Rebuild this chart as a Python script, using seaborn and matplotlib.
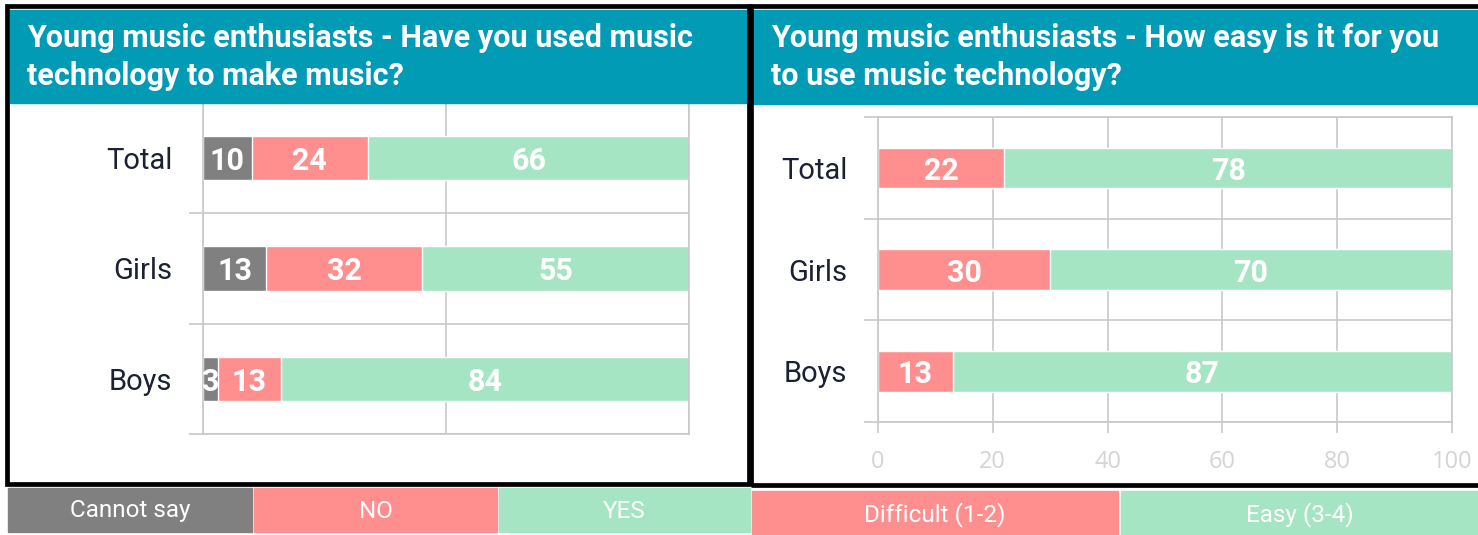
import matplotlib
matplotlib.use('Agg')
import matplotlib.pyplot as plt
from matplotlib.patches import Rectangle
import seaborn as sns
import pandas as pd
import numpy as np

# data
groups = ['Total', 'Girls', 'Boys']
used_labels = ['Cannot say', 'NO', 'YES']
used_cannot = [10, 13, 3]
used_no = [24, 32, 13]
used_yes = [66, 55, 84]
easy_labels = ['Difficult (1-2)', 'Easy (3-4)']
easy_difficult = [22, 30, 13]
easy_easy = [78, 70, 87]

title_left = 'Young music enthusiasts - Have you used music\ntechnology to make music?'
title_right = 'Young music enthusiasts - How easy is it for you\nto use music technology?'

GREY = '#808080'
RED = '#FF8F8F'
GREEN = '#A6E5C4'
TEAL = '#019BB6'
GRID = '#C8C8C8'
NAVY = '#1B2033'

sns.set_theme(style='white')
plt.rcParams['font.family'] = ['Roboto', 'DejaVu Sans']

W, H = 1478, 535
fig = plt.figure(figsize=(W / 100, H / 100), dpi=100)


def frac(x0, y0, x1, y1):
    # pixel box (top-left origin) -> figure fraction rect
    return [x0 / W, 1 - y1 / H, (x1 - x0) / W, (y1 - y0) / H]


def stacked(ax, series, colors):
    df = pd.DataFrame({'group': groups})
    cums = np.cumsum(np.array(series), axis=0)
    # draw largest cumulative first so smaller ones sit on top
    for i in range(len(series) - 1, -1, -1):
        df['v'] = cums[i]
        sns.barplot(data=df, x='v', y='group', color=colors[i], width=0.4,
                    saturation=1, ax=ax, orient='h')
    for i in range(len(series)):
        start = cums[i] - np.array(series[i])
        for j, g in enumerate(groups):
            ax.text(start[j] + series[i][j] / 2, j, str(series[i][j]),
                    ha='center', va='center_baseline', color='white',
                    fontsize=22, fontweight='bold')
    ax.set_xlim(0, 100)
    ax.set_ylim(2.5, -0.5)
    ax.set_xlabel('')
    ax.set_ylabel('')
    ax.set_yticks([-0.5, 0.5, 1.5, 2.5], minor=True)
    ax.grid(True, which='minor', axis='y', color=GRID, lw=1.2)
    ax.grid(True, which='major', axis='x', color=GRID, lw=1.2)
    ax.grid(False, which='major', axis='y')
    ax.tick_params(axis='y', which='major', length=0, pad=22,
                   labelsize=21, labelcolor=NAVY)
    ax.tick_params(axis='y', which='minor', length=10, width=1.2,
                   color=GRID, left=True)
    for s in ax.spines.values():
        s.set_color(GRID)
        s.set_linewidth(1.2)
    ax.set_axisbelow(True)


# left chart
ax1 = fig.add_axes(frac(203, 103, 689, 434))
stacked(ax1, [used_cannot, used_no, used_yes], [GREY, RED, GREEN])
ax1.set_xticks([0, 50, 100])
ax1.tick_params(axis='x', length=0, labelbottom=False)

# right chart
ax2 = fig.add_axes(frac(878, 117, 1452, 422))
stacked(ax2, [easy_difficult, easy_easy], [RED, GREEN])
ax2.set_xticks([0, 20, 40, 60, 80, 100])
ax2.tick_params(axis='x', length=8, width=1.2, color=GRID, bottom=True,
                labelsize=17, labelcolor='#D4D4D4', pad=12)
for t in ax2.get_xticklabels():
    t.set_fontfamily(['Open Sans', 'DejaVu Sans'])

# title bands
fig.patches.append(Rectangle(frac(10, 10, 747, 103)[:2], 737 / W, 93 / H,
                             transform=fig.transFigure, color=TEAL, zorder=0))
fig.patches.append(Rectangle(frac(753, 10, 1478, 104)[:2], 725 / W, 94 / H,
                             transform=fig.transFigure, color=TEAL, zorder=0))
fig.text(27 / W, 1 - 57 / H, title_left, ha='left', va='center', color='white',
         fontsize=22, fontweight='bold', linespacing=1.32)
fig.text(771 / W, 1 - 57 / H, title_right, ha='left', va='center', color='white',
         fontsize=22, fontweight='bold', linespacing=1.32)

# panel borders
fig.patches.append(Rectangle(((7) / W, 1 - 484 / H), (742 / W), (478 / H),
                             transform=fig.transFigure, fill=False,
                             edgecolor='black', lw=3.4, zorder=5))
fig.patches.append(Rectangle(((751) / W, 1 - 485 / H), (740 / W), (479 / H),
                             transform=fig.transFigure, fill=False,
                             edgecolor='black', lw=3.4, zorder=5))

# legend boxes
left_boxes = [(8, 252), (254, 497), (499, 750)]
for (x0, x1), lab, c in zip(left_boxes, used_labels, [GREY, RED, GREEN]):
    fig.patches.append(Rectangle(frac(x0, 488, x1, 532)[:2], (x1 - x0) / W, 44 / H,
                                 transform=fig.transFigure, color=c))
    fig.text((x0 + x1) / 2 / W, 1 - 511 / H, lab, ha='center', va='center',
             color='white', fontsize=17.5)
right_boxes = [(752, 1118), (1121, 1478)]
for (x0, x1), lab, c in zip(right_boxes, easy_labels, [RED, GREEN]):
    fig.patches.append(Rectangle(frac(x0, 491, x1, 535)[:2], (x1 - x0) / W, 44 / H,
                                 transform=fig.transFigure, color=c))
    fig.text((x0 + x1) / 2 / W, 1 - 515 / H, lab, ha='center', va='center',
             color='white', fontsize=17.5)

fig.savefig('out.png', dpi=100)
